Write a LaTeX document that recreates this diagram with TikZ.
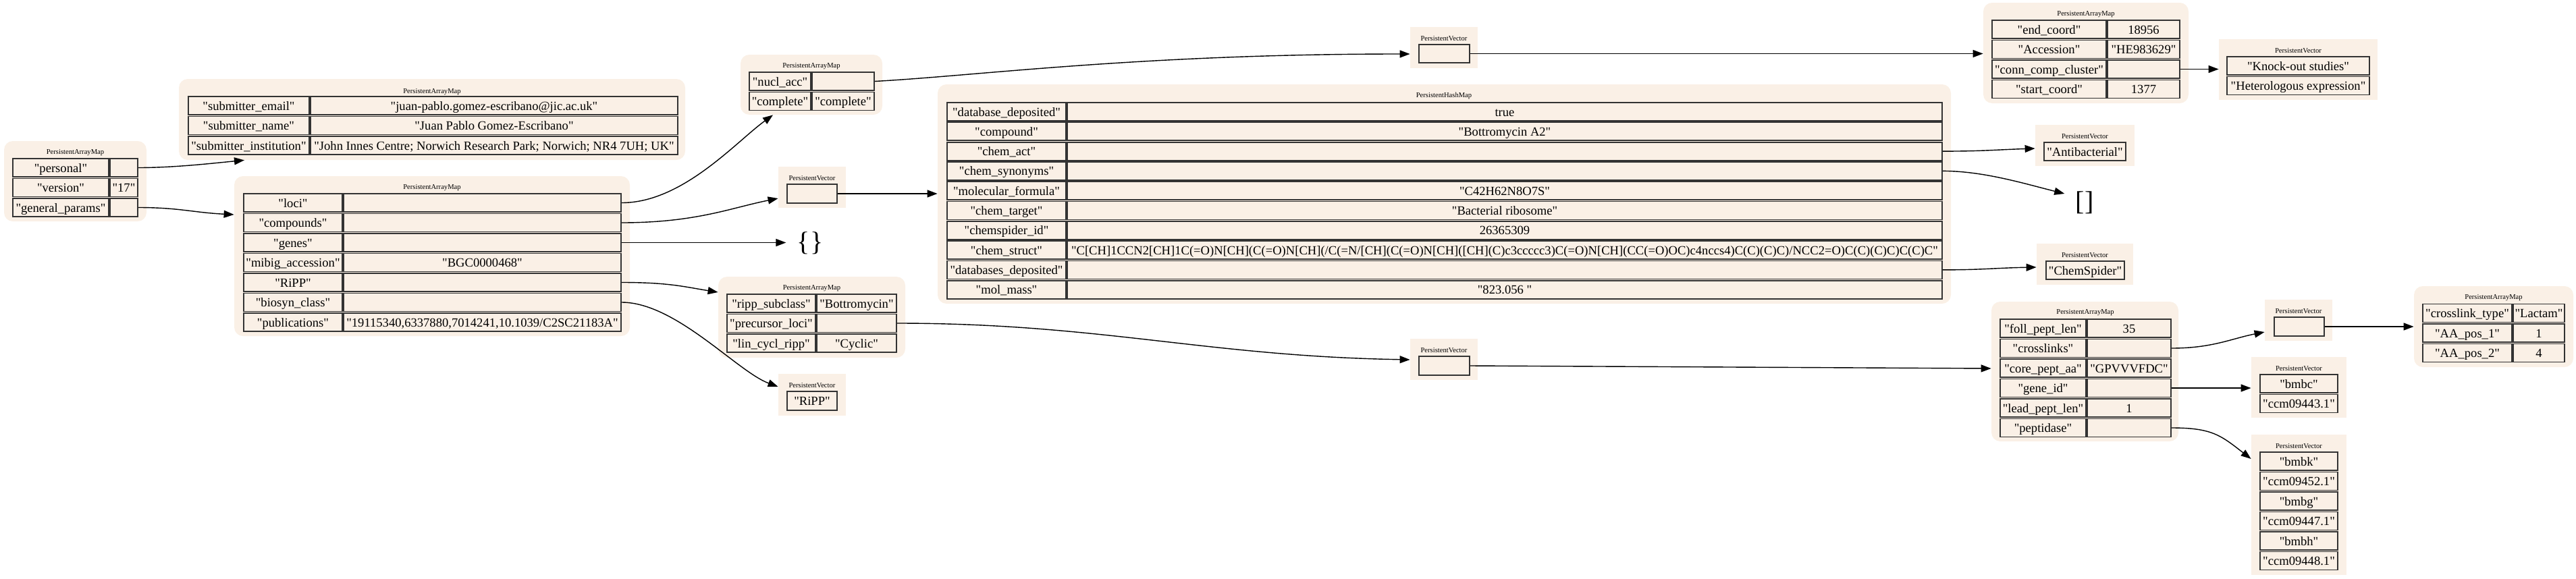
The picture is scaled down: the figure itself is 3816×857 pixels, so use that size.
\documentclass[tikz,border=0pt]{standalone}
\usepackage{fontspec}
\setmainfont{Liberation Serif}[Ligatures=TeXOff]
\usetikzlibrary{arrows.meta}
\definecolor{bg}{HTML}{FAF0E6}
\newcommand\cel[6]{\node[cell,minimum width={((#4)-(#2))*0.5pt},minimum height={((#5)-(#3))*0.5pt}] (#1) at ({((#2)+(#4))/2},{((#3)+(#5))/2}) {#6};}
\newcommand\kv[9]{\cel{#1-k#2}{#4}{#3}{#5}{#3+27}{#8}\cel{#1-v#2}{#6}{#3}{#7}{#3+27}{#9}}
\newcommand\ob[6]{\node[#6,minimum width={((#4)-(#2))*0.5pt},minimum height={((#5)-(#3))*0.5pt}] (#1) at ({((#2)+(#4))/2},{((#3)+(#5))/2}) {};}
\begin{document}
\begin{tikzpicture}[x=0.5pt,y=-0.5pt,
  cell/.style={draw=black!80,line width=0.9pt,fill=bg,inner sep=0pt,font=\fontsize{9.3}{11}\selectfont,text height=7.5pt,text depth=1pt},
  mapbox/.style={fill=bg,draw=none,rounded corners=6.5pt,inner sep=0pt},
  vecbox/.style={fill=bg,draw=none,inner sep=0pt},
  ttl/.style={font=\fontsize{5.3}{6}\selectfont,inner sep=0pt},
  big/.style={font=\fontsize{20}{22}\selectfont,inner sep=8pt},
  edge/.style={line width=0.7pt,-{Triangle[length=7.5pt,width=5.5pt]}}]
\useasboundingbox (0,0) rectangle (3816,857);
% ---- outer boxes
\ob{a}{6}{209}{217}{328}{mapbox}
\ob{b}{265}{117}{1015}{237}{mapbox}
\ob{c}{347}{261}{933}{498}{mapbox}
\ob{d}{1097}{81}{1307}{170}{mapbox}
\ob{v1}{1153}{247}{1253}{308}{vecbox}
\ob{e}{1064}{410}{1341}{530}{mapbox}
\ob{v2}{1153}{554}{1253}{616}{vecbox}
\ob{h}{1389}{125}{2890}{450}{mapbox}
\ob{v3}{2089}{40}{2189}{101}{vecbox}
\ob{f}{2938}{4}{3242}{153}{mapbox}
\ob{v4}{3287}{58}{3522}{148}{vecbox}
\ob{v5}{3015}{185}{3162}{246}{vecbox}
\ob{v6}{3017}{361}{3160}{422}{vecbox}
\ob{v7}{2089}{502}{2189}{563}{vecbox}
\ob{g}{2950}{447}{3227}{654}{mapbox}
\ob{v8}{3355}{444}{3455}{505}{vecbox}
\ob{v9}{3335}{529}{3476}{619}{vecbox}
\ob{v10}{3335}{644}{3476}{852}{vecbox}
\ob{i}{3576}{424}{3812}{544}{mapbox}
% ---- titles
\node[ttl] (a-t) at (111.5,226) {PersistentArrayMap};
\node[ttl] (b-t) at (640,136) {PersistentArrayMap};
\node[ttl] (c-t) at (640,278) {PersistentArrayMap};
\node[ttl] (d-t) at (1202,98) {PersistentArrayMap};
\node[ttl] (v1-t) at (1203,264) {PersistentVector};
\node[ttl] (e-t) at (1202.5,427) {PersistentArrayMap};
\node[ttl] (v2-t) at (1203,571) {PersistentVector};
\node[ttl] (h-t) at (2139,142) {PersistentHashMap};
\node[ttl] (v3-t) at (2139,57) {PersistentVector};
\node[ttl] (f-t) at (3090,21) {PersistentArrayMap};
\node[ttl] (v4-t) at (3404.5,75) {PersistentVector};
\node[ttl] (v5-t) at (3088.5,202) {PersistentVector};
\node[ttl] (v6-t) at (3088.5,378) {PersistentVector};
\node[ttl] (v7-t) at (2139,519) {PersistentVector};
\node[ttl] (g-t) at (3089,463) {PersistentArrayMap};
\node[ttl] (v8-t) at (3405,461) {PersistentVector};
\node[ttl] (v9-t) at (3405.5,546) {PersistentVector};
\node[ttl] (v10-t) at (3405.5,661) {PersistentVector};
\node[ttl] (i-t) at (3694,441) {PersistentArrayMap};
% ---- map a
\kv{a}{1}{235}{19}{161}{163}{204}{"personal"}{}
\kv{a}{2}{264.5}{19}{161}{163}{204}{"version"}{"17"}
\kv{a}{3}{294}{19}{161}{163}{204}{"general\_params"}{}
% ---- map b
\kv{b}{1}{143}{279}{458}{460}{1004}{"submitter\_email"}{"juan-pablo.gomez-escribano@jic.ac.uk"}
\kv{b}{2}{172.5}{279}{458}{460}{1004}{"submitter\_name"}{"Juan Pablo Gomez-Escribano"}
\kv{b}{3}{202}{279}{458}{460}{1004}{"submitter\_institution"}{"John Innes Centre; Norwich Research Park; Norwich; NR4 7UH; UK"}
% ---- map c
\kv{c}{1}{287}{361}{507}{509}{920}{"loci"}{}
\kv{c}{2}{316.5}{361}{507}{509}{920}{"compounds"}{}
\kv{c}{3}{346}{361}{507}{509}{920}{"genes"}{}
\kv{c}{4}{375.5}{361}{507}{509}{920}{"mibig\_accession"}{"BGC0000468"}
\kv{c}{5}{405}{361}{507}{509}{920}{"RiPP"}{}
\kv{c}{6}{434.5}{361}{507}{509}{920}{"biosyn\_class"}{}
\kv{c}{7}{464}{361}{507}{509}{920}{"publications"}{"19115340,6337880,7014241,10.1039/C2SC21183A"}
% ---- map d
\kv{d}{1}{107}{1110}{1201}{1203}{1295}{"nucl\_acc"}{}
\kv{d}{2}{136.5}{1110}{1201}{1203}{1295}{"complete"}{"complete"}
% ---- v1
\cel{v1c}{1166}{273}{1240}{301}{}
\node[big] (emp1) at (1200,360) {\{\}};
% ---- map e
\kv{e}{1}{436}{1077}{1208}{1210}{1328}{"ripp\_subclass"}{"Bottromycin"}
\kv{e}{2}{465.5}{1077}{1208}{1210}{1328}{"precursor\_loci"}{}
\kv{e}{3}{495}{1077}{1208}{1210}{1328}{"lin\_cycl\_ripp"}{"Cyclic"}
% ---- v2
\cel{v2c}{1166}{580}{1240}{608}{"RiPP"}
% ---- hash map
\kv{h}{1}{152}{1403}{1579}{1581}{2877}{"database\_deposited"}{true}
\kv{h}{2}{181.3}{1403}{1579}{1581}{2877}{"compound"}{"Bottromycin A2"}
\kv{h}{3}{210.6}{1403}{1579}{1581}{2877}{"chem\_act"}{}
\kv{h}{4}{239.9}{1403}{1579}{1581}{2877}{"chem\_synonyms"}{}
\kv{h}{5}{269.2}{1403}{1579}{1581}{2877}{"molecular\_formula"}{"C42H62N8O7S"}
\kv{h}{6}{298.5}{1403}{1579}{1581}{2877}{"chem\_target"}{"Bacterial ribosome"}
\kv{h}{7}{327.8}{1403}{1579}{1581}{2877}{"chemspider\_id"}{26365309}
\kv{h}{8}{357.1}{1403}{1579}{1581}{2877}{"chem\_struct"}{"C[CH]1CCN2[CH]1C(=O)N[CH](C(=O)N[CH](/C(=N/[CH](C(=O)N[CH]([CH](C)c3ccccc3)C(=O)N[CH](CC(=O)OC)c4nccs4)C(C)(C)C)/NCC2=O)C(C)(C)C)C(C)C"}
\kv{h}{9}{386.4}{1403}{1579}{1581}{2877}{"databases\_deposited"}{}
\kv{h}{10}{415.7}{1403}{1579}{1581}{2877}{"mol\_mass"}{"823.056 "}
% ---- v3
\cel{v3c}{2102}{66}{2177}{93}{}
% ---- map f
\kv{f}{1}{30}{2951}{3120}{3122}{3229}{"end\_coord"}{18956}
\kv{f}{2}{59.5}{2951}{3120}{3122}{3229}{"Accession"}{"HE983629"}
\kv{f}{3}{89}{2951}{3120}{3122}{3229}{"conn\_comp\_cluster"}{}
\kv{f}{4}{118.5}{2951}{3120}{3122}{3229}{"start\_coord"}{1377}
% ---- v4
\cel{v4c1}{3299}{84}{3510}{111}{"Knock-out studies"}
\cel{v4c2}{3299}{113.5}{3510}{140.5}{"Heterologous expression"}
% ---- v5, [] , v6
\cel{v5c}{3028}{211}{3149}{238}{"Antibacterial"}
\node[big] (emp2) at (3088,300) {[]};
\cel{v6c}{3031}{387}{3147}{414}{"ChemSpider"}
% ---- v7
\cel{v7c}{2102}{528}{2177}{556}{}
% ---- map g
\kv{g}{1}{473}{2963}{3090}{3092}{3216}{"foll\_pept\_len"}{35}
\kv{g}{2}{502.5}{2963}{3090}{3092}{3216}{"crosslinks"}{}
\kv{g}{3}{532}{2963}{3090}{3092}{3216}{"core\_pept\_aa"}{"GPVVVFDC"}
\kv{g}{4}{561.5}{2963}{3090}{3092}{3216}{"gene\_id"}{}
\kv{g}{5}{591}{2963}{3090}{3092}{3216}{"lead\_pept\_len"}{1}
\kv{g}{6}{620.5}{2963}{3090}{3092}{3216}{"peptidase"}{}
% ---- v8, v9, v10
\cel{v8c}{3369}{470}{3443}{498}{}
\cel{v9c1}{3348}{555}{3463}{582}{"bmbc"}
\cel{v9c2}{3348}{584.5}{3463}{611.5}{"ccm09443.1"}
\cel{v10c1}{3348}{670}{3463}{697}{"bmbk"}
\cel{v10c2}{3348}{699.5}{3463}{726.5}{"ccm09452.1"}
\cel{v10c3}{3348}{729}{3463}{756}{"bmbg"}
\cel{v10c4}{3348}{758.5}{3463}{785.5}{"ccm09447.1"}
\cel{v10c5}{3348}{788}{3463}{815}{"bmbh"}
\cel{v10c6}{3348}{817.5}{3463}{844.5}{"ccm09448.1"}
% ---- map i
\kv{i}{1}{450.5}{3589}{3721}{3723}{3799}{"crosslink\_type"}{"Lactam"}
\kv{i}{2}{480}{3589}{3721}{3723}{3799}{"AA\_pos\_1"}{1}
\kv{i}{3}{509.5}{3589}{3721}{3723}{3799}{"AA\_pos\_2"}{4}
% ---- edges
\draw[edge] (a-v1.east) .. controls +(55,0) and +(-42,4) .. (362,0 |- b.south);
\draw[edge] (a-v3.east) .. controls +(60,0) and +(-60,-3) .. (c.west |- 0,318);
\draw[edge] (c-v1.east) .. controls +(90,0) and +(-55,40) .. (1145,0 |- d.south);
\draw[edge] (c-v2.east) .. controls +(110,0) and +(-70,14) .. (v1.west |- 0,294);
\draw[edge] (c-v3.east) -- (c-v3.east -| emp1.west);
\draw[edge] (c-v5.east) .. controls +(70,0) and +(-50,-8) .. (e.west |- 0,433);
\draw[edge] (c-v6.east) .. controls +(80,0) and +(-60,-22) .. (v2.west |- 0,573);
\draw[edge] (d-v1.east) .. controls +(150,-8) and +(-400,0) .. (v3.west |- 0,80);
\draw[edge] (v1c.east) -- (v1c.east -| h.west);
\draw[edge] (v3c.east) -- (v3c.east -| f.west);
\draw[edge] (f-v3.east) -- (f-v3.east -| v4.west);
\draw[edge] (h-v3.east) .. controls +(60,0) and +(-60,2) .. (v5.west |- 0,220);
\draw[edge] (h-v4.east) .. controls +(60,0) and +(-60,-15) .. (emp2.west |- 0,287);
\draw[edge] (h-v9.east) .. controls +(60,0) and +(-60,1) .. (v6.west |- 0,396);
\draw[edge] (e-v2.east) .. controls +(300,0) and +(-300,-5) .. (v7.west |- 0,533);
\draw[edge] (v7c.east) -- (g.west |- 0,546);
\draw[edge] (g-v2.east) .. controls +(60,0) and +(-50,10) .. (v8.west |- 0,492);
\draw[edge] (g-v4.east) -- (g-v4.east -| v9.west);
\draw[edge] (g-v6.east) .. controls +(60,0) and +(-45,-35) .. (v10.west |- 0,680);
\draw[edge] (v8c.east) -- (v8c.east -| i.west);
\end{tikzpicture}
\end{document}
